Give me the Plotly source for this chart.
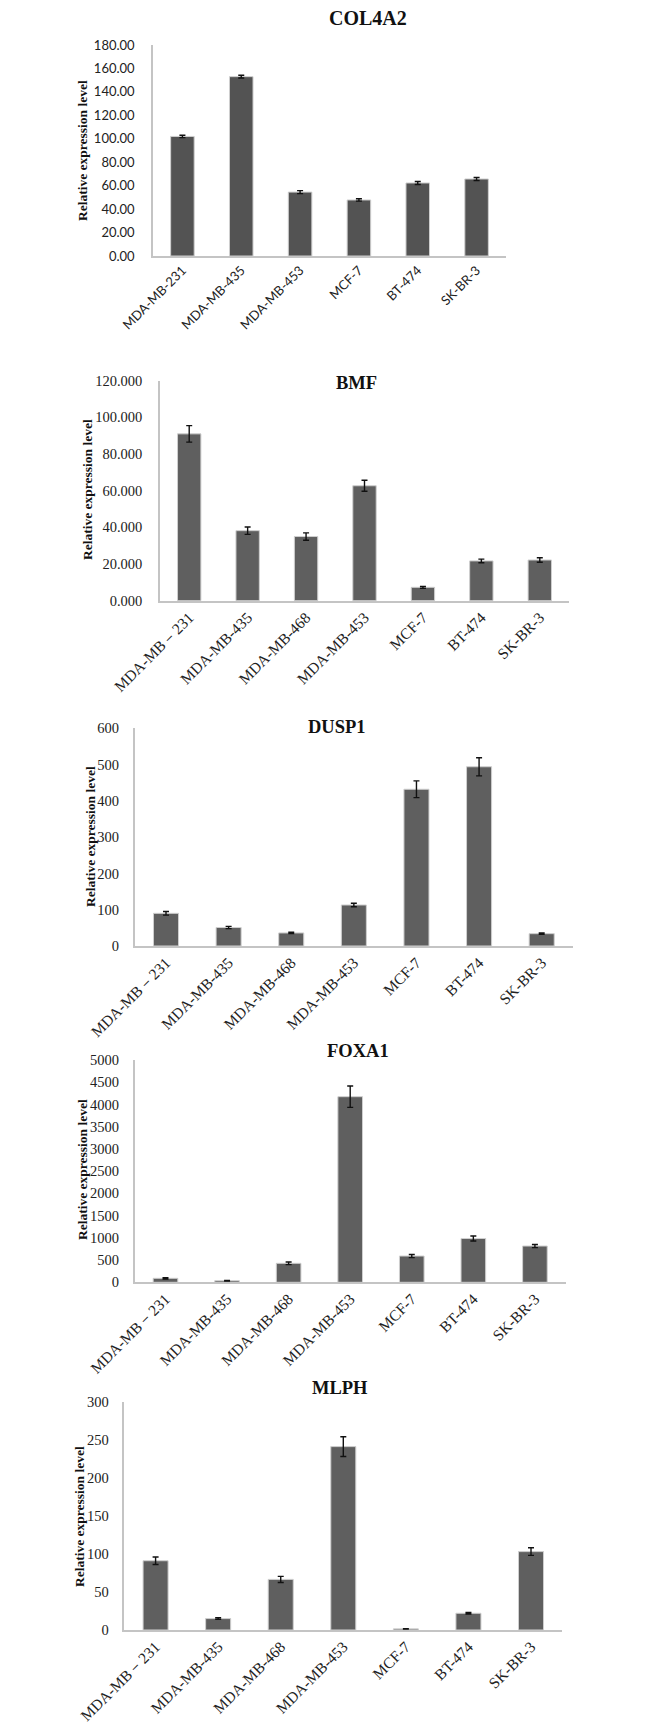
import plotly.graph_objects as go

W, H = 652, 1733

# ---------------- data ----------------
col4a2_cats = ["MDA-MB-231", "MDA-MB-435", "MDA-MB-453", "MCF-7", "BT-474", "SK-BR-3"]
col4a2_vals = [102.0, 153.0, 54.5, 47.8, 62.3, 65.7]
col4a2_errs = [1.0, 1.2, 1.3, 1.0, 1.3, 1.3]

cats7 = ["MDA-MB－231", "MDA-MB-435", "MDA-MB-468", "MDA-MB-453", "MCF-7", "BT-474", "SK-BR-3"]

bmf_vals = [91.0, 38.2, 35.0, 62.7, 7.3, 21.7, 22.2]
bmf_errs = [4.5, 2.0, 2.0, 3.0, 0.5, 1.0, 1.2]

dusp1_vals = [90, 51, 36, 113, 432, 494, 34]
dusp1_errs = [5, 3, 2, 5, 23, 25, 2]

foxa1_vals = [90, 36, 427, 4175, 591, 985, 816]
foxa1_errs = [15, 8, 30, 240, 35, 55, 35]

mlph_vals = [91, 15, 66.5, 241, 1.5, 22, 103]
mlph_errs = [5, 1, 4, 13, 0.3, 1, 5]

titles = ["COL4A2", "BMF", "DUSP1", "FOXA1", "MLPH"]
y_title = "Relative expression level"

# ---------------- layout (pixel geometry, page coordinates) ----------------
serif = "'Liberation Serif', 'Times New Roman', serif"
sans = "Lato, 'Open Sans', sans-serif"


def fx(px):
    return px / W


def fy(py):
    return 1 - py / H


panels = [
    dict(cats=col4a2_cats, vals=col4a2_vals, errs=col4a2_errs, x0=153, x1=506, yt=45, yb=256,
         rng=[0, 180], dtick=20, fmt=".2f", font=sans, yfs=13, xfs=13,
         color="#535353", title_xy=(368, 18), title_fs=20, ytit_xy=(83, 150), stand=14),
    dict(cats=cats7, vals=bmf_vals, errs=bmf_errs, x0=160, x1=569, yt=380.7, yb=600.7,
         rng=[0, 120], dtick=20, fmt=".3f", font=serif, yfs=14.5, xfs=15.5,
         color="#5f5f5f", title_xy=(357, 383), title_fs=18.5, ytit_xy=(87, 490), stand=13),
    dict(cats=cats7, vals=dusp1_vals, errs=dusp1_errs, x0=134.7, x1=573, yt=728.3, yb=946,
         rng=[0, 600], dtick=100, fmt="d", font=serif, yfs=14.5, xfs=15.5,
         color="#5f5f5f", title_xy=(337, 727), title_fs=18.5, ytit_xy=(90, 837), stand=11),
    dict(cats=cats7, vals=foxa1_vals, errs=foxa1_errs, x0=134.7, x1=565.7, yt=1060, yb=1282.3,
         rng=[0, 5000], dtick=500, fmt="d", font=serif, yfs=14.5, xfs=15.5,
         color="#5f5f5f", title_xy=(358, 1051), title_fs=18.5, ytit_xy=(82, 1170), stand=11),
    dict(cats=cats7, vals=mlph_vals, errs=mlph_errs, x0=124.3, x1=562.3, yt=1401.7, yb=1630,
         rng=[0, 300], dtick=50, fmt="d", font=serif, yfs=14.5, xfs=15.5,
         color="#5f5f5f", title_xy=(340, 1388), title_fs=18.5, ytit_xy=(79, 1517), stand=11),
]

fig = go.Figure()
annotations = []
layout = {}
for i, p in enumerate(panels, start=1):
    xa = "x" if i == 1 else f"x{i}"
    ya = "y" if i == 1 else f"y{i}"
    fig.add_trace(go.Bar(
        x=p["cats"], y=p["vals"], xaxis=xa, yaxis=ya, width=0.4,
        marker=dict(color=p["color"], line=dict(color="#cfcfcf", width=1)),
        error_y=dict(type="data", array=p["errs"], visible=True, color="#111111",
                     thickness=1.4, width=3),
        showlegend=False,
    ))
    n = len(p["cats"])
    layout[f"xaxis{i}" if i > 1 else "xaxis"] = dict(
        domain=[fx(p["x0"]), fx(p["x1"])], anchor=ya, range=[-0.5, n - 0.5],
        showline=True, linecolor="#c4c4c4", linewidth=1.5, showgrid=False, zeroline=False,
        ticks="", tickangle=-45, automargin=False,
        tickfont=dict(family=p["font"], size=p["xfs"], color="#222222"),
        fixedrange=True,
    )
    layout[f"yaxis{i}" if i > 1 else "yaxis"] = dict(
        domain=[fy(p["yb"]), fy(p["yt"])], anchor=xa, range=p["rng"],
        dtick=p["dtick"], tickformat=p["fmt"], automargin=False,
        showline=True, linecolor="#c4c4c4", linewidth=1.5, showgrid=False, zeroline=False,
        ticks="", ticklabelstandoff=p["stand"],
        tickfont=dict(family=p["font"], size=p["yfs"], color="#222222"),
        fixedrange=True,
    )
    annotations.append(dict(
        text=f"<b>{titles[i-1]}</b>", xref="paper", yref="paper",
        x=fx(p["title_xy"][0]), y=fy(p["title_xy"][1]), xanchor="center", yanchor="middle",
        showarrow=False, font=dict(family=serif, size=p["title_fs"], color="#111111"),
    ))
    annotations.append(dict(
        text=f"<b>{y_title}</b>", xref="paper", yref="paper", textangle=-90,
        x=fx(p["ytit_xy"][0]), y=fy(p["ytit_xy"][1]), xanchor="center", yanchor="middle",
        showarrow=False, font=dict(family=serif, size=13.5, color="#111111"),
    ))

fig.update_layout(
    template="none",
    width=W, height=H, margin=dict(l=0, r=0, t=0, b=0, pad=0, autoexpand=False),
    paper_bgcolor="white", plot_bgcolor="white",
    annotations=annotations, bargap=0.6, **layout,
)

fig.write_html(
    "out.html",
    config={"displayModeBar": False},
    post_script="document.body.style.margin='0';document.body.style.padding='0';"
                "document.documentElement.style.overflow='hidden';",
)
